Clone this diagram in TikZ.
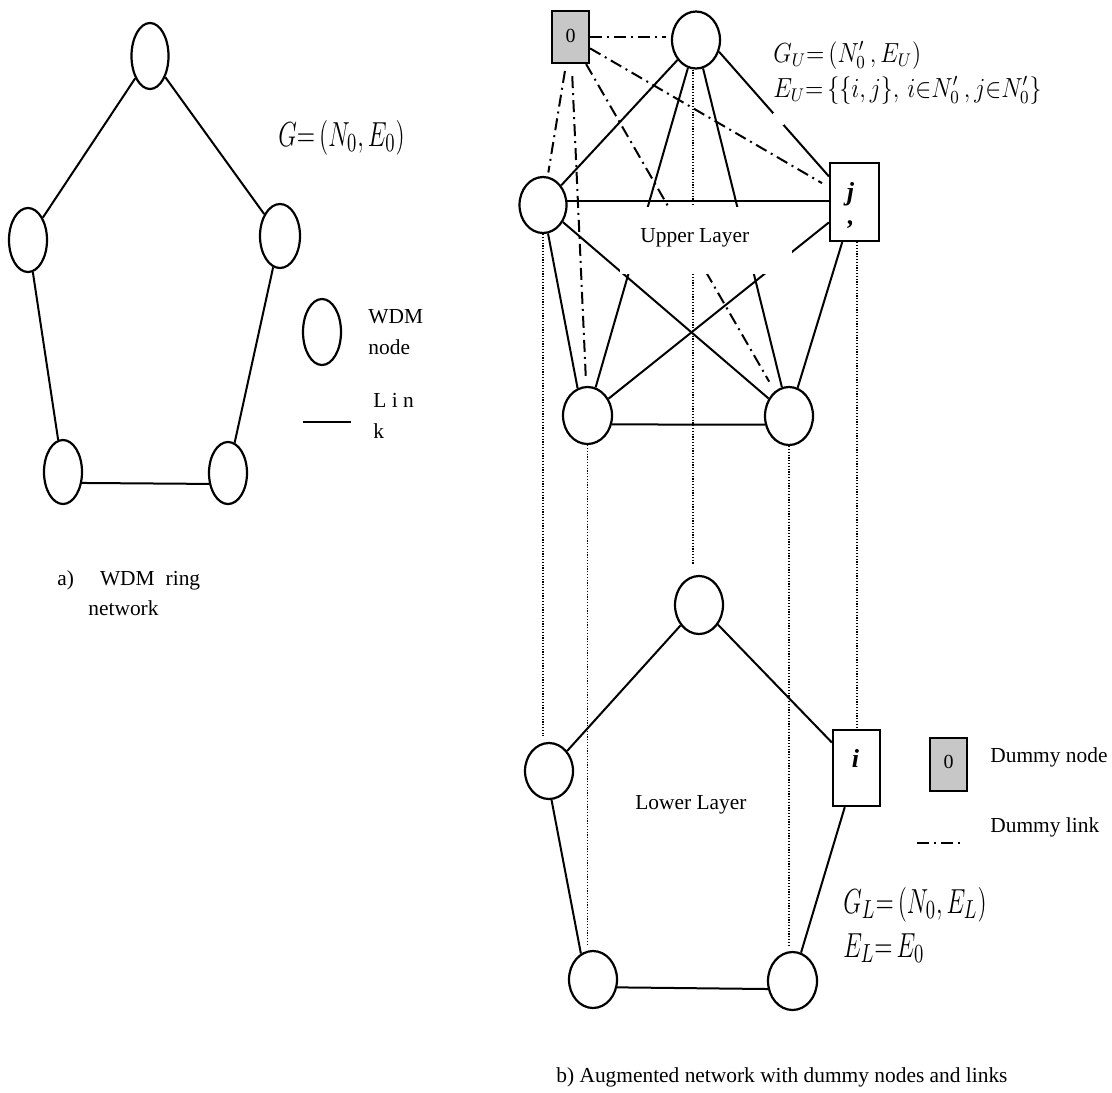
\documentclass[tikz,border=0pt]{standalone}
\usepackage{fontspec}
\setmainfont{Liberation Serif}
\usepackage{graphicx}
\usetikzlibrary{shapes.geometric,calc}

\begin{document}
\begin{tikzpicture}[x=0.5pt,y=-0.5pt,
  wdm/.style={draw, ellipse, line width=1.1pt, inner sep=0pt},
  ringnode/.style={wdm, minimum width=19pt, minimum height=32pt},
  laynode/.style={wdm, minimum width=24pt, minimum height=28.5pt},
  pbox/.style={draw, rectangle, line width=1.1pt, minimum width=23.5pt, minimum height=38pt, inner sep=0pt},
  dbox/.style={draw, rectangle, line width=1.1pt, fill=black!22, minimum width=18.5pt, minimum height=26pt, inner sep=0pt, font=\fontsize{10}{10}\selectfont},
  boxtxt/.style={inner sep=0pt, font=\fontsize{13}{13}\selectfont\bfseries\itshape},
  link/.style={line width=1pt},
  dlink/.style={line width=1pt, dash pattern=on 6pt off 2.5pt on 1pt off 2.5pt},
  vlink/.style={line width=0.75pt, dash pattern=on 0.6pt off 0.8pt},
  txt/.style={font=\fontsize{10.7}{12}\selectfont, inner sep=0pt, anchor=base west},
  form/.style={inner sep=0pt, anchor=base west},
  ]
\useasboundingbox (0,0) rectangle (1112,1092);

% ---------- a) WDM ring network ----------
\node[ringnode, minimum width=18.5pt, minimum height=33pt] (a1) at (150,56) {};
\node[ringnode] (a2) at (28,240) {};
\node[ringnode, minimum width=20pt] (a3) at (280,236) {};
\node[ringnode] (a4) at (63,472) {};
\node[ringnode, minimum height=31pt] (a5) at (228,473) {};
\draw[link] (a1) -- (a2);
\draw[link] (a1) -- (a3);
\draw[link] (a2) -- (a4);
\draw[link] (a3) -- (a5);
\draw[link] (a4.-30) -- (a5.210);

\node[form] (gform) at (278,146) {\fontsize{13}{13}\selectfont\scalebox{1}[1.45]{$G{=}\,(N_0,E_0)$}};

% legend of the ring
\node[ringnode, minimum height=33pt] (legwdm) at (322,332) {};
\node[txt] (legwdmA) at (368,323) {WDM};
\node[txt] (legwdmB) at (368,354) {node};
\coordinate (legLa) at (303,422);
\coordinate (legLb) at (351,422);
\draw[link] (legLa) -- (legLb);
\node[txt] (leglinkA) at (373,407) {L i n};
\node[txt] (leglinkB) at (373,438) {k};

\node[txt] (capa) at (57,585) {a)\hspace{13pt}WDM\hspace{5.5pt}ring};
\node[txt] (capa2) at (88,615) {network};

% ---------- b) upper layer ----------
\node[dbox] (d0) at (570.5,37) {\raisebox{1.5pt}{0}};
\node[laynode] (u1) at (696,40) {};
\node[laynode, minimum width=23.5pt, minimum height=28pt] (u2) at (543,205) {};
\node[pbox, minimum width=24.5pt, minimum height=39pt] (u3) at (854.5,202) {};
\node[laynode, minimum width=24.5pt] (u4) at (587.5,415.5) {};
\node[laynode, minimum height=29pt] (u5) at (789,416) {};

% full mesh of the physical nodes
\draw[link] (u1) -- (u2);
\draw[link] (u1.-27) -- (u3.135);
\draw[link] (u1) -- (u4);
\draw[link] (u1) -- (u5);
\draw[link] (u2.10) -- (u2.10 -| u3.west);
\draw[link] (u2.-80) -- (u4.110);
\draw[link] (u2) -- (u5);
\draw[link] (u3) -- (u4);
\draw[link] (u3) -- (u5);
\draw[link] (u4.-20) -- (u5.200);

% dummy links from node 0
\draw[dlink, shorten >=2.5pt] (d0) -- (d0 -| u1.west);
\draw[dlink, shorten <=3.5pt, shorten >=2pt] (d0) -- (u2);
\draw[dlink, shorten <=6pt, shorten >=3.5pt] (d0) -- (u4);
\draw[dlink, shorten >=5.5pt] (d0) -- (u5);
\draw[dlink, shorten >=4pt] (d0) -- (u3);

% ---------- b) lower layer ----------
\node[laynode, minimum height=29pt] (l1) at (699,605) {};
\node[laynode, minimum height=28pt] (l2) at (549,771) {};
\node[pbox] (l3) at (856.5,768) {};
\node[laynode] (l4) at (593,979.5) {};
\node[laynode, minimum width=24.5pt, minimum height=29pt] (l5) at (792.5,981) {};
\draw[link] (l1) -- (l2);
\draw[link] (l1) -- (l3);
\draw[link] (l3) -- (l5);
\draw[link] (l2.-85) -- (l4.115);
\draw[link] (l4.-18) -- (l5.198);

% vertical ties between the layers
\draw[vlink, shorten >=3pt] (u2.south) -- (u2.south |- l2.north);
\draw[vlink, shorten >=2pt] (u4.south) -- (u4.south |- l4.north);
\draw[vlink, shorten >=5pt] ([xshift=-1.5pt]u1.south) -- ([xshift=-1.5pt]u1.south |- l1.north);
\draw[vlink, shorten >=2.5pt] (u5.south) -- (u5.south |- l5.north);
\draw[vlink, shorten >=1pt] ([xshift=1.25pt]u3.south) -- ([xshift=1.25pt]u3.south |- l3.north);

% clear space around the layer title and below the formula
\fill[white] (620,207) rectangle (792,274);
\fill[white] (772.5,113) rectangle (783.5,125);

\node[txt] (uptitle) at (640,242) {Upper Layer};
\node[txt] (lowtitle) at (635,809) {Lower Layer};

% labels inside the boxes
\node[boxtxt] (u3j) at (850.5,194) {j};
\node[boxtxt] (u3c) at (851,225) {,};
\node[boxtxt] (l3i) at (855.5,758) {i};

% formulas
\node[form] (guform) at (773,62) {\fontsize{12}{12}\selectfont\scalebox{1}[1.15]{$G_U{=}\,(N_0'\,,E_U)$}};
\node[form] (euform) at (773,97) {\fontsize{12}{12}\selectfont\scalebox{1}[1.15]{$E_U{=}\,\{\{i,j\},\,i{\in}N_0'\,,j{\in}N_0'\}$}};
\node[form] (glform) at (843,913) {\fontsize{13}{13}\selectfont\scalebox{1}[1.45]{$G_L{=}\,(N_0,E_L)$}};
\node[form] (elform) at (843,957) {\fontsize{13}{13}\selectfont\scalebox{1}[1.45]{$E_L{=}\,E_0$}};

% legend of the augmented network
\node[dbox, minimum height=26.5pt] (legd0) at (948.5,764.5) {\raisebox{3pt}{0}};
\node[txt] (legdA) at (990,762) {Dummy node};
\coordinate (legDa) at (917,843);
\coordinate (legDb) at (965,843);
\draw[dlink] (legDa) -- (legDb);
\node[txt] (legdB) at (990,832) {Dummy link};

\node[txt] (capb) at (556,1082) {b) Augmented network with dummy nodes and links};
\end{tikzpicture}
\end{document}
